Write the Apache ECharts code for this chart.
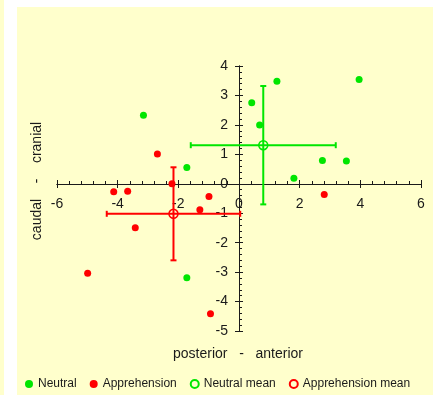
<!DOCTYPE html>
<html>
<head>
<meta charset="utf-8">
<script src="https://cdn.jsdelivr.net/npm/echarts@6/dist/echarts.min.js"></script>
<style>
  html, body { margin: 0; padding: 0; background: #fff; }
  .strip { position: absolute; left: 0; top: 0; width: 4px; height: 395px; background: #ffffcc; }
  .panel { position: absolute; left: 17px; top: 7px; width: 416px; height: 388px; background: #ffffcc; }
  #chart { position: absolute; left: 0; top: 0; width: 438px; height: 395px; }
</style>
</head>
<body>
<div class="strip"></div>
<div class="panel"></div>
<div id="chart"></div>
<script>
// posterior(-) / anterior(+) , caudal(-) / cranial(+)
var neutralX = [0.42, 0.68, 1.25, 3.96, 2.75, 3.54, 1.81, -3.15, -1.72, -1.72];
var neutralY = [2.75, 2.0, 3.48, 3.54, 0.79, 0.77, 0.19, 2.33, 0.55, -3.19];
var apprX = [-2.69, -2.21, -4.13, -3.67, -0.99, -1.29, -3.42, -4.99, -0.94, 2.81];
var apprY = [1.01, 0.0, -0.27, -0.25, -0.43, -0.88, -1.49, -3.04, -4.41, -0.36];

// mean and error (+/-) in x and y
var neutralMean = [0.80, 1.31];
var neutralErr = [2.39, 2.01];
var apprMean = [-2.16, -1.02];
var apprErr = [2.2, 1.58];

var xTicks = [-6, -4, -2, 0, 2, 4, 6];
var yTicks = [-5, -4, -3, -2, -1, 0, 1, 2, 3, 4];

var GREEN = '#00e600';
var RED = '#ff0000';
var INK = '#1a1a1a';
var FONT = '"Liberation Sans", Arial, sans-serif';

function pairs(xs, ys) {
  return xs.map(function (x, i) { return [x, ys[i]]; });
}

function errorBars(color) {
  return function (params, api) {
    var x = api.value(0), y = api.value(1), ex = api.value(2), ey = api.value(3);
    var l = api.coord([x - ex, y]), r = api.coord([x + ex, y]);
    var t = api.coord([x, y + ey]), b = api.coord([x, y - ey]);
    var c = 3;
    var st = { stroke: color, lineWidth: 2 };
    var line = function (x1, y1, x2, y2) {
      return { type: 'line', shape: { x1: x1, y1: y1, x2: x2, y2: y2 }, style: st };
    };
    return {
      type: 'group',
      children: [
        line(l[0], l[1], r[0], r[1]),
        line(l[0], l[1] - c, l[0], l[1] + c),
        line(r[0], r[1] - c, r[0], r[1] + c),
        line(t[0], t[1], b[0], b[1]),
        line(t[0] - c, t[1], t[0] + c, t[1]),
        line(b[0] - c, b[1], b[0] + c, b[1])
      ]
    };
  };
}

var chart = echarts.init(document.getElementById('chart'));

// plot box: x -6..6 -> 57..421, y 4..-5 -> 66..331 ; axes cross at 0
var G = { left: 57, top: 66, width: 364, height: 265 };
var xMin = xTicks[0], xMax = xTicks[xTicks.length - 1];
var yMin = yTicks[0], yMax = yTicks[yTicks.length - 1];
var xOff = -Math.round(G.height * (0 - yMin) / (yMax - yMin));
var yOff = -Math.round(G.width * (0 - xMin) / (xMax - xMin));
var axisLine = { onZero: false, lineStyle: { color: INK, width: 1 } };

var option = {
  animation: false,
  textStyle: { fontFamily: FONT },
  grid: [G, G],
  xAxis: [
    {
      gridIndex: 0, type: 'value', min: xMin, max: xMax, interval: 2,
      position: 'bottom', offset: xOff,
      axisLine: axisLine,
      axisTick: { show: true, length: 4, lineStyle: { color: INK } },
      axisLabel: { color: INK, fontSize: 14, margin: 13, fontFamily: FONT },
      splitLine: { show: false }
    },
    {
      gridIndex: 1, type: 'value', min: xMin, max: xMax, interval: 2,
      position: 'bottom', offset: xOff,
      axisLine: axisLine,
      axisTick: { show: true, inside: true, length: 4, lineStyle: { color: INK } },
      minorTick: { show: true, splitNumber: 5, length: 3, lineStyle: { color: INK } },
      axisLabel: { show: false },
      splitLine: { show: false }
    }
  ],
  yAxis: [
    {
      gridIndex: 0, type: 'value', min: yMin, max: yMax, interval: 1,
      position: 'left', offset: yOff,
      axisLine: axisLine,
      axisTick: { show: true, length: 4, lineStyle: { color: INK } },
      axisLabel: { color: INK, fontSize: 14, margin: 11, fontFamily: FONT },
      splitLine: { show: false }
    },
    {
      gridIndex: 1, type: 'value', min: yMin, max: yMax, interval: 1,
      position: 'left', offset: yOff,
      axisLine: axisLine,
      axisTick: { show: true, inside: true, length: 4, lineStyle: { color: INK } },
      minorTick: { show: true, splitNumber: 5, length: 3, lineStyle: { color: INK } },
      axisLabel: { show: false },
      splitLine: { show: false }
    }
  ],
  legend: {
    left: 20, top: 373,
    itemWidth: 8, itemHeight: 8, itemGap: 13,
    textStyle: { color: INK, fontSize: 12, fontFamily: FONT },
    data: ['Neutral', 'Apprehension', 'Neutral mean', 'Apprehension mean']
  },
  graphic: [
    {
      type: 'text', x: 238, y: 354,
      style: { text: 'posterior   -   anterior', fill: INK, font: '14px ' + FONT, align: 'center', verticalAlign: 'middle' }
    },
    {
      type: 'text', x: 37, y: 181, rotation: Math.PI / 2,
      style: { text: 'caudal    -    cranial', fill: INK, font: '14px ' + FONT, align: 'center', verticalAlign: 'middle' }
    }
  ],
  series: [
    {
      type: 'custom', name: 'Neutral err', xAxisIndex: 0, yAxisIndex: 0, z: 3,
      renderItem: errorBars(GREEN),
      data: [neutralMean.concat(neutralErr)]
    },
    {
      type: 'custom', name: 'Apprehension err', xAxisIndex: 0, yAxisIndex: 0, z: 3,
      renderItem: errorBars(RED),
      data: [apprMean.concat(apprErr)]
    },
    {
      type: 'scatter', name: 'Neutral', xAxisIndex: 0, yAxisIndex: 0, z: 4,
      symbol: 'circle', symbolSize: 7,
      itemStyle: { color: GREEN, opacity: 1 },
      data: pairs(neutralX, neutralY)
    },
    {
      type: 'scatter', name: 'Apprehension', xAxisIndex: 0, yAxisIndex: 0, z: 4,
      symbol: 'circle', symbolSize: 7,
      itemStyle: { color: RED, opacity: 1 },
      data: pairs(apprX, apprY)
    },
    {
      type: 'scatter', name: 'Neutral mean', xAxisIndex: 0, yAxisIndex: 0, z: 5,
      symbol: 'circle', symbolSize: 9,
      itemStyle: { color: 'rgba(0,0,0,0)', borderColor: GREEN, borderWidth: 1.5, opacity: 1 },
      data: [neutralMean]
    },
    {
      type: 'scatter', name: 'Apprehension mean', xAxisIndex: 0, yAxisIndex: 0, z: 5,
      symbol: 'circle', symbolSize: 9,
      itemStyle: { color: 'rgba(0,0,0,0)', borderColor: RED, borderWidth: 1.5, opacity: 1 },
      data: [apprMean]
    }
  ]
};

chart.setOption(option);
</script>
</body>
</html>
